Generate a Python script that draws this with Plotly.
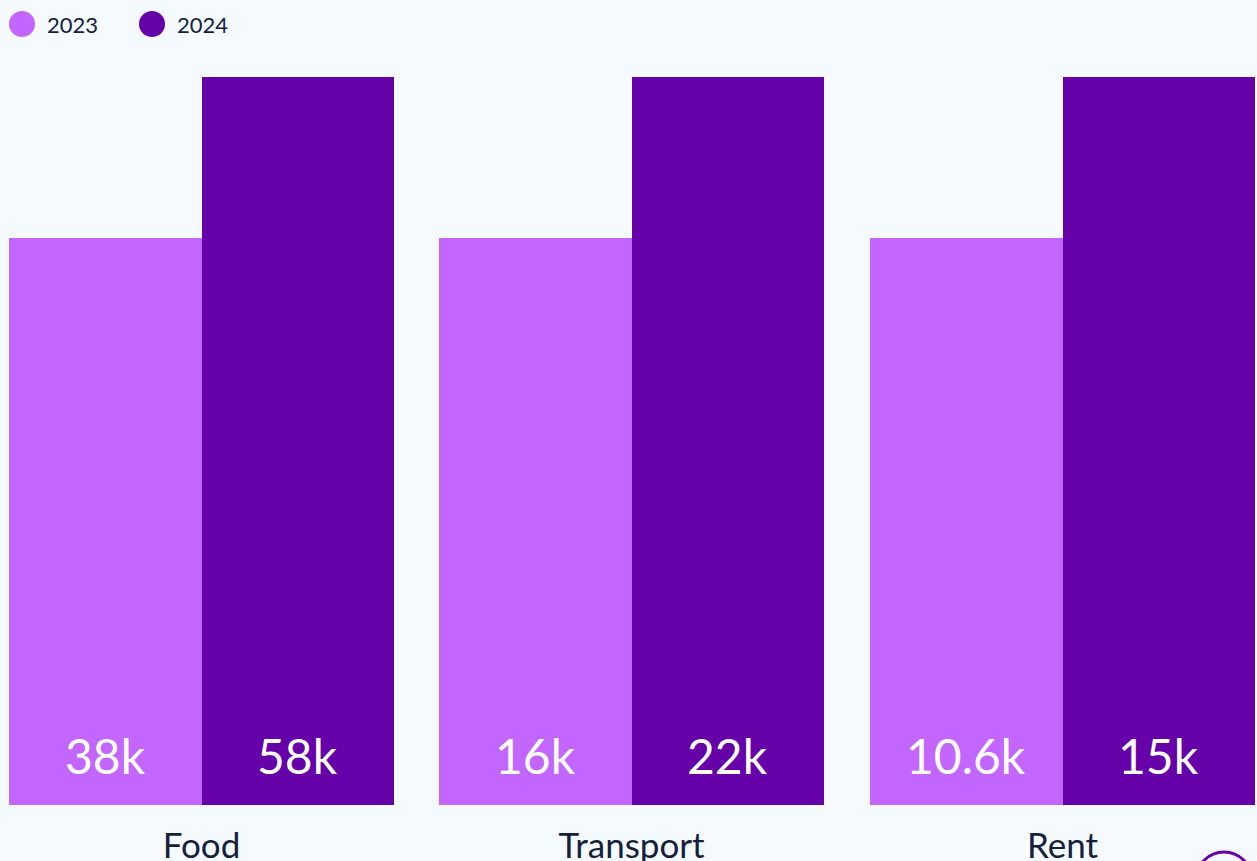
import plotly.graph_objects as go

# Spending per category, two years
categories = ["Food", "Transport", "Rent"]
years = ["2023", "2024"]
values_2023 = [38000, 16000, 10600]
values_2024 = [58000, 22000, 15000]

W, H = 1257, 861
BG = "#f5faff"
INK = "#14213d"
COLORS = {"2023": "#c266ff", "2024": "#6600a8"}

# pixel layout of the three category panels
panel_left = [9, 439, 870]
panel_width = 385
plot_top, plot_bottom = 77, 805
# the lighter bar fills this share of the panel height; the darker one runs past the top
light_share = (plot_bottom - 238) / (plot_bottom - plot_top)


def fmt(v):
    return f"{v / 1000:g}k"


fig = go.Figure()
series = {"2023": values_2023, "2024": values_2024}

layout_axes = {}
annotations = []
for i, cat in enumerate(categories):
    n = "" if i == 0 else str(i + 1)
    xa, ya = f"x{n}", f"y{n}"
    for j, yr in enumerate(years):
        v = series[yr][i]
        fig.add_trace(go.Bar(
            x=[cat], y=[v], name=yr, xaxis=xa, yaxis=ya,
            marker=dict(color=COLORS[yr], line=dict(width=0)),
            showlegend=False, hoverinfo="skip",
        ))
        annotations.append(dict(
            x=cat, y=0, xref=xa, yref=ya, text=fmt(v), showarrow=False,
            xshift=(-1 if j == 0 else 1) * panel_width / 4,
            yanchor="bottom", yshift=19,
            font=dict(family="Lato", size=48, color="white"),
        ))
    x0 = panel_left[i] / W
    x1 = (panel_left[i] + panel_width) / W
    layout_axes[f"xaxis{n}"] = dict(
        domain=[x0, x1], anchor=ya, type="category",
        showgrid=False, zeroline=False, showline=False, ticks="",
        tickfont=dict(family="Lato", size=35, color=INK),
        ticklabelstandoff=17, automargin=False, fixedrange=True,
    )
    layout_axes[f"yaxis{n}"] = dict(
        domain=[(H - plot_bottom) / H, (H - plot_top) / H], anchor=xa,
        range=[0, values_2023[i] / light_share],
        visible=False, automargin=False, fixedrange=True,
    )

# legend: filled dots with year labels
shapes = []
for k, yr in enumerate(years):
    cx, cy, r = 22 + 130 * k, 24, 13
    shapes.append(dict(
        type="circle", xref="paper", yref="paper",
        x0=(cx - r) / W, x1=(cx + r) / W,
        y0=(H - cy - r) / H, y1=(H - cy + r) / H,
        fillcolor=COLORS[yr], line=dict(width=0),
    ))
    annotations.append(dict(
        x=(cx + 23) / W, y=(H - cy - 1) / H, xref="paper", yref="paper",
        text=yr, showarrow=False, xanchor="left", yanchor="middle",
        font=dict(family="Lato", size=22, color=INK),
    ))

# round action button peeking in at the lower right corner
bcx, bcy, br = 1224, 880, 28
shapes.append(dict(
    type="circle", xref="paper", yref="paper",
    x0=(bcx - br) / W, x1=(bcx + br) / W,
    y0=(H - bcy - br) / H, y1=(H - bcy + br) / H,
    fillcolor="rgba(0,0,0,0)", line=dict(color="#6600a8", width=3),
))

fig.update_layout(
    width=W, height=H,
    margin=dict(l=0, r=0, t=0, b=0, autoexpand=False),
    paper_bgcolor=BG, plot_bgcolor=BG,
    barmode="group", bargap=0, bargroupgap=0,
    showlegend=False,
    shapes=shapes, annotations=annotations,
    **layout_axes,
)

fig.write_html("out.html", config={"displayModeBar": False})
